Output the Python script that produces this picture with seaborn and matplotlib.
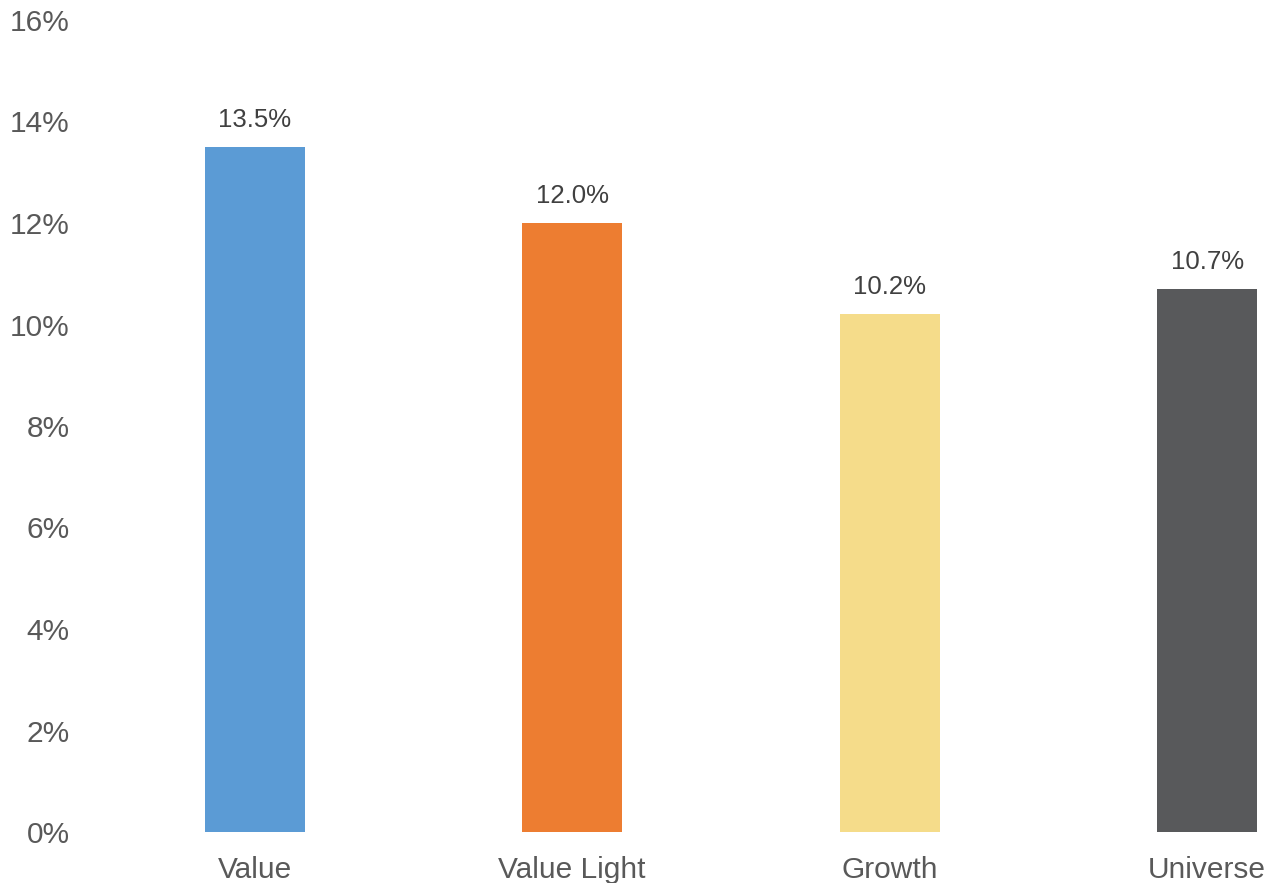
import matplotlib
matplotlib.use("Agg")
import matplotlib.pyplot as plt
import seaborn as sns
import pandas as pd
from matplotlib.ticker import FuncFormatter

categories = ["Value", "Value Light", "Growth", "Universe"]
values = [13.5, 12.0, 10.2, 10.7]
colors = ["#5B9BD5", "#ED7D31", "#F5DC8A", "#58595B"]
yticks = [0, 2, 4, 6, 8, 10, 12, 14, 16]

sns.set_theme(style="white")
plt.rcParams["font.family"] = ["Liberation Sans", "DejaVu Sans"]

df = pd.DataFrame({"cat": categories, "val": values})

W, H = 1268, 883
fig = plt.figure(figsize=(W / 100, H / 100), dpi=100)
left = 96 / W
bottom = (H - 832) / H
top = (H - 20) / H
ax = fig.add_axes([left, bottom, 1 - left, top - bottom])

sns.barplot(data=df, x="cat", y="val", hue="cat", palette=colors, width=0.315,
            legend=False, ax=ax, saturation=1, linewidth=0)

ax.set_ylim(0, 16)
step = 317.5
ax.set_xlim(-0.5, -0.5 + (W - 96) / step)
ax.set_yticks(yticks)
ax.yaxis.set_major_formatter(FuncFormatter(lambda v, p: f"{v:.0f}%"))
for s in ax.spines.values():
    s.set_visible(False)
ax.tick_params(axis="y", length=0, pad=19, labelsize=21.5, labelcolor="#595959")
ax.tick_params(axis="x", length=0, pad=17, labelsize=21.5, labelcolor="#595959")
ax.set_xlabel("")
ax.set_ylabel("")
ax.grid(False)

for i, v in enumerate(values):
    ax.annotate(f"{v:.1f}%", (i, v), xytext=(0, 11), textcoords="offset points",
                ha="center", va="bottom", fontsize=18.5, color="#404040")

fig.savefig("out.png", dpi=100)
